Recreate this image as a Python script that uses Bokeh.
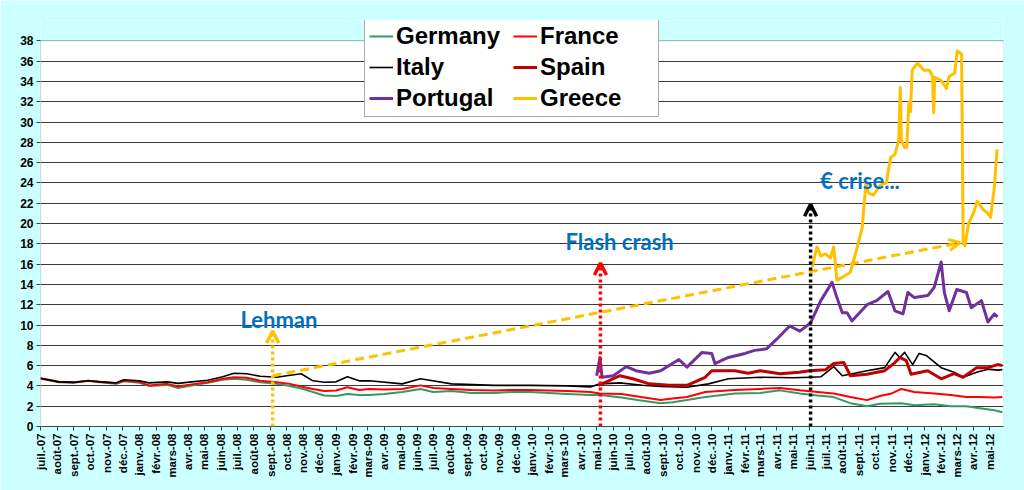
import pandas as pd
from bokeh.plotting import figure
from bokeh.models import (Legend, LegendItem, FixedTicker, Arrow, OpenHead,
                          Label, Range1d, BoxAnnotation)
from bokeh.embed import file_html
from bokeh.resources import INLINE

# ---------------- data ----------------
month_labels = [
    "juil.-07", "août-07", "sept.-07", "oct.-07", "nov.-07", "déc.-07",
    "janv.-08", "févr.-08", "mars-08", "avr.-08", "mai-08", "juin-08",
    "juil.-08", "août-08", "sept.-08", "oct.-08", "nov.-08", "déc.-08",
    "janv.-09", "févr.-09", "mars-09", "avr.-09", "mai-09", "juin-09",
    "juil.-09", "août-09", "sept.-09", "oct.-09", "nov.-09", "déc.-09",
    "janv.-10", "févr.-10", "mars-10", "avr.-10", "mai-10", "juin-10",
    "juil.-10", "août-10", "sept.-10", "oct.-10", "nov.-10", "déc.-10",
    "janv.-11", "févr.-11", "mars-11", "avr.-11", "mai-11", "juin-11",
    "juil.-11", "août-11", "sept.-11", "oct.-11", "nov.-11", "déc.-11",
    "janv.-12", "févr.-12", "mars-12", "avr.-12", "mai-12",
]
y_ticks = list(range(0, 39, 2))
y_max = 38

germany_dates = [
    "2007-07-01", "2007-07-16", "2007-08-04", "2007-09-01", "2007-09-28", "2007-10-19",
    "2007-11-19", "2007-12-03", "2008-01-01", "2008-01-19", "2008-02-22", "2008-03-13",
    "2008-04-07", "2008-05-07", "2008-06-04", "2008-06-25", "2008-07-19", "2008-08-13",
    "2008-09-13", "2008-10-07", "2008-11-01", "2008-11-19", "2008-12-10", "2009-01-01",
    "2009-01-22", "2009-02-13", "2009-03-04", "2009-04-01", "2009-05-04", "2009-06-07",
    "2009-07-01", "2009-08-04", "2009-09-10", "2009-10-22", "2009-11-25", "2009-12-28",
    "2010-02-01", "2010-03-07", "2010-04-19", "2010-05-07", "2010-06-16", "2010-07-16",
    "2010-08-28", "2010-09-19", "2010-10-16", "2010-11-19", "2011-01-13", "2011-03-01",
    "2011-04-07", "2011-05-14", "2011-06-16", "2011-07-16", "2011-08-16", "2011-09-16",
    "2011-10-10", "2011-11-19", "2011-12-13", "2012-01-19", "2012-02-19", "2012-03-19",
    "2012-04-13", "2012-05-10", "2012-05-25",
]
germany_values = [
    4.70, 4.55, 4.36, 4.30, 4.50, 4.35, 4.20, 4.45, 4.30, 4.00, 4.10, 3.80,
    4.05, 4.30, 4.60, 4.70, 4.60, 4.35, 4.20, 4.00, 3.70, 3.40, 3.06, 3.00,
    3.20, 3.10, 3.10, 3.20, 3.40, 3.70, 3.40, 3.50, 3.30, 3.30, 3.40, 3.40,
    3.30, 3.20, 3.10, 3.10, 2.85, 2.60, 2.30, 2.40, 2.60, 2.90, 3.26, 3.30,
    3.56, 3.26, 3.05, 2.90, 2.30, 2.00, 2.25, 2.30, 2.10, 2.20, 2.00, 2.00,
    1.80, 1.60, 1.40,
]

france_dates = [
    "2007-07-01", "2007-07-16", "2007-08-04", "2007-09-01", "2007-09-28", "2007-10-19",
    "2007-11-19", "2007-12-03", "2008-01-01", "2008-01-19", "2008-02-22", "2008-03-13",
    "2008-04-07", "2008-05-07", "2008-06-04", "2008-06-25", "2008-07-19", "2008-08-13",
    "2008-09-13", "2008-10-07", "2008-11-01", "2008-11-19", "2008-12-10", "2009-01-01",
    "2009-01-22", "2009-02-13", "2009-03-04", "2009-04-01", "2009-05-04", "2009-06-07",
    "2009-07-01", "2009-08-04", "2009-09-10", "2009-10-22", "2009-11-25", "2009-12-28",
    "2010-02-01", "2010-03-07", "2010-04-19", "2010-05-07", "2010-06-16", "2010-07-16",
    "2010-08-28", "2010-09-19", "2010-10-16", "2010-11-19", "2011-01-13", "2011-03-01",
    "2011-04-07", "2011-05-14", "2011-06-16", "2011-07-16", "2011-08-16", "2011-09-16",
    "2011-10-10", "2011-11-01", "2011-11-19", "2011-12-13", "2012-01-19", "2012-02-19",
    "2012-03-19", "2012-04-13", "2012-05-10", "2012-05-25",
]
france_values = [
    4.75, 4.60, 4.40, 4.35, 4.50, 4.40, 4.25, 4.50, 4.40, 4.05, 4.20, 3.95,
    4.15, 4.35, 4.70, 4.85, 4.80, 4.50, 4.36, 4.20, 3.90, 3.70, 3.50, 3.55,
    3.87, 3.60, 3.70, 3.65, 3.70, 4.05, 3.80, 3.70, 3.60, 3.55, 3.60, 3.60,
    3.55, 3.50, 3.40, 3.26, 3.20, 2.95, 2.60, 2.75, 2.90, 3.40, 3.60, 3.70,
    3.80, 3.56, 3.40, 3.26, 2.90, 2.60, 3.00, 3.26, 3.70, 3.40, 3.26, 3.10,
    2.90, 2.90, 2.85, 2.90,
]

italy_dates = [
    "2007-07-01", "2007-08-04", "2007-09-01", "2007-09-28", "2007-10-19", "2007-11-19",
    "2007-12-03", "2008-01-01", "2008-01-19", "2008-02-22", "2008-03-13", "2008-04-07",
    "2008-05-07", "2008-06-04", "2008-06-25", "2008-07-19", "2008-08-13", "2008-09-13",
    "2008-10-01", "2008-10-28", "2008-11-19", "2008-12-10", "2009-01-01", "2009-01-22",
    "2009-02-13", "2009-03-04", "2009-05-04", "2009-06-07", "2009-08-04", "2009-10-22",
    "2009-12-28", "2010-03-07", "2010-04-19", "2010-05-07", "2010-06-13", "2010-07-25",
    "2010-08-28", "2010-10-16", "2010-11-25", "2011-01-01", "2011-03-01", "2011-05-01",
    "2011-06-03", "2011-06-22", "2011-07-16", "2011-08-01", "2011-09-16", "2011-10-19",
    "2011-11-07", "2011-11-16", "2011-11-25", "2011-12-10", "2011-12-22", "2012-01-04",
    "2012-02-01", "2012-02-25", "2012-03-13", "2012-04-07", "2012-04-28", "2012-05-16",
    "2012-05-25",
]
italy_values = [
    4.75, 4.40, 4.35, 4.50, 4.40, 4.30, 4.60, 4.50, 4.30, 4.40, 4.25, 4.40,
    4.55, 4.90, 5.25, 5.20, 4.95, 4.85, 5.00, 5.20, 4.50, 4.36, 4.40, 4.90,
    4.50, 4.50, 4.20, 4.70, 4.20, 4.05, 4.05, 4.00, 3.90, 4.20, 4.30, 4.06,
    3.95, 3.86, 4.20, 4.70, 4.85, 4.80, 4.85, 4.90, 5.90, 5.00, 5.50, 5.80,
    7.30, 6.80, 7.30, 6.10, 7.20, 7.00, 5.80, 5.35, 4.85, 5.35, 5.65, 5.55,
    5.60,
]

spain_dates = [
    "2010-05-04", "2010-05-19", "2010-06-13", "2010-07-07", "2010-08-07", "2010-09-13",
    "2010-10-16", "2010-11-19", "2010-12-01", "2011-01-13", "2011-02-07", "2011-03-01",
    "2011-04-07", "2011-05-13", "2011-06-01", "2011-07-01", "2011-07-16", "2011-08-04",
    "2011-08-16", "2011-09-16", "2011-10-19", "2011-11-07", "2011-11-16", "2011-11-28",
    "2011-12-07", "2012-01-07", "2012-02-01", "2012-02-25", "2012-03-13", "2012-04-07",
    "2012-04-28", "2012-05-16", "2012-05-25",
]
spain_values = [
    4.06, 4.40, 5.00, 4.70, 4.20, 4.06, 4.06, 4.85, 5.50, 5.50, 5.25, 5.50,
    5.20, 5.35, 5.50, 5.60, 6.20, 6.30, 5.00, 5.15, 5.50, 6.30, 6.80, 6.50,
    5.15, 5.50, 4.70, 5.20, 4.85, 5.80, 5.80, 6.10, 6.00,
]

portugal_dates = [
    "2010-05-01", "2010-05-07", "2010-05-11", "2010-06-01", "2010-06-25", "2010-07-13",
    "2010-08-07", "2010-08-28", "2010-10-01", "2010-10-16", "2010-11-13", "2010-12-01",
    "2010-12-07", "2011-01-01", "2011-02-01", "2011-02-19", "2011-03-13", "2011-04-01",
    "2011-04-25", "2011-05-14", "2011-06-03", "2011-06-22", "2011-07-13", "2011-07-22",
    "2011-08-01", "2011-08-10", "2011-08-19", "2011-09-16", "2011-10-04", "2011-10-25",
    "2011-11-07", "2011-11-22", "2011-12-01", "2011-12-13", "2012-01-07", "2012-01-19",
    "2012-02-01", "2012-02-07", "2012-02-16", "2012-03-01", "2012-03-19", "2012-03-28",
    "2012-04-16", "2012-04-28", "2012-05-10", "2012-05-16",
]
portugal_values = [
    5.00, 6.80, 4.85, 5.00, 5.90, 5.50, 5.25, 5.50, 6.60, 5.85, 7.30, 7.20,
    6.20, 6.80, 7.20, 7.50, 7.65, 8.60, 9.90, 9.40, 10.20, 12.40, 14.20, 12.70,
    11.20, 11.20, 10.40, 12.00, 12.40, 13.30, 11.40, 11.10, 13.20, 12.70, 12.90, 13.70,
    16.20, 13.20, 11.40, 13.50, 13.20, 11.70, 12.40, 10.30, 11.10, 10.80,
]

greece_dates = [
    "2011-06-06", "2011-06-15", "2011-06-22", "2011-07-01", "2011-07-10", "2011-07-16",
    "2011-07-22", "2011-08-04", "2011-08-16", "2011-08-29", "2011-09-07", "2011-09-14",
    "2011-09-19", "2011-09-28", "2011-10-11", "2011-10-22", "2011-10-30", "2011-11-07",
    "2011-11-14", "2011-11-17", "2011-11-19", "2011-11-25", "2011-11-29", "2011-12-03",
    "2011-12-06", "2011-12-09", "2011-12-19", "2011-12-31", "2012-01-10", "2012-01-16",
    "2012-01-18", "2012-01-20", "2012-02-01", "2012-02-11", "2012-02-16", "2012-02-26",
    "2012-03-02", "2012-03-10", "2012-03-13", "2012-03-16", "2012-03-23", "2012-04-01",
    "2012-04-08", "2012-04-19", "2012-04-28", "2012-05-03", "2012-05-10", "2012-05-15",
]
greece_values = [
    15.7, 17.7, 16.8, 17.0, 16.6, 17.7, 14.4, 14.8, 15.2, 17.7, 19.6, 24.0,
    23.0, 22.8, 23.8, 24.0, 26.5, 26.8, 28.2, 33.4, 28.2, 27.5, 27.5, 32.0,
    31.0, 35.1, 35.8, 35.1, 35.1, 34.5, 30.9, 34.4, 34.1, 33.3, 34.5, 34.8,
    37.0, 36.7, 18.0, 17.8, 20.0, 21.0, 22.2, 21.4, 21.0, 20.6, 23.6, 27.3,
]

# annotations (date, value)
lehman_x, lehman_top = "2008-09-05", 9.4
flash_x, flash_top = "2010-05-08", 16.1
crise_x, crise_top = "2011-06-03", 21.9
trend_start = ("2008-09-05", 5.0)
trend_end = ("2012-03-07", 18.1)
lehman_text = ("2008-07-07", 10.5)
flash_text = ("2010-03-04", 18.2)
crise_text = ("2011-06-21", 24.2)

x_start, x_end = "2007-07-01", "2012-05-27"


def ms(s):
    return pd.Timestamp(s).timestamp() * 1000.0


# ---------------- figure ----------------
BG = "#CCFFFF"
# the frame reaches a little above 38 so that the legend (which overlaps
# the top border in the reference) is not clipped; that strip is painted
# in the background colour.
p = figure(width=1024, height=490, x_axis_type="datetime",
           output_backend="svg", toolbar_location=None,
           x_range=Range1d(ms(x_start), ms(x_end)),
           y_range=Range1d(0, 40.0),
           min_border_left=40, min_border_right=21,
           min_border_top=20, min_border_bottom=64)
p.border_fill_color = BG
p.background_fill_color = "white"
p.outline_line_color = None

tick_pos = [ts.timestamp() * 1000.0 for ts in
            pd.date_range(x_start, periods=len(month_labels), freq="MS")]
p.xaxis.ticker = FixedTicker(ticks=tick_pos)
p.xaxis.major_label_overrides = {t: lab for t, lab in zip(tick_pos, month_labels)}
p.xaxis.major_label_orientation = 3.14159265 / 2
p.yaxis.ticker = FixedTicker(ticks=y_ticks)

for ax in (p.xaxis[0], p.yaxis[0]):
    ax.major_label_text_font = "Liberation Sans"
    ax.major_label_text_font_style = "bold"
    ax.major_label_text_color = "black"
    ax.minor_tick_line_color = None
    ax.major_tick_in = 0
    ax.major_tick_out = 4
    ax.major_label_standoff = 3
p.xaxis.major_label_text_font_size = "11.5px"
p.yaxis.major_label_text_font_size = "12px"
p.xaxis.axis_line_color = "#404040"
p.xaxis.major_tick_line_color = "#404040"
p.yaxis.axis_line_color = None
p.yaxis.major_tick_line_color = "#404040"

p.xgrid.visible = False
p.ygrid.grid_line_color = "#3a3a3a"
p.ygrid.grid_line_width = 1

# strip above 38 painted as background, green plot border, grey y axis line
p.add_layout(BoxAnnotation(bottom=y_max, fill_color=BG, fill_alpha=1,
                           line_color=None, level="underlay"))
p.add_layout(BoxAnnotation(bottom=0, top=y_max, fill_alpha=0,
                           line_color="#22B14C", line_width=1))
p.add_layout(BoxAnnotation(bottom=0, top=y_max, left=ms(x_start),
                           right=ms(x_start), fill_alpha=0,
                           line_color="#808080", line_width=1.5))

# ---------------- series ----------------
series = [
    ("Germany", germany_dates, germany_values, "#339966", 2),
    ("France", france_dates, france_values, "#FF0000", 2),
    ("Italy", italy_dates, italy_values, "#000000", 1.6),
    ("Spain", spain_dates, spain_values, "#C00000", 3),
    ("Portugal", portugal_dates, portugal_values, "#7030A0", 3),
    ("Greece", greece_dates, greece_values, "#FFC000", 3),
]
rend = {}
for name, d, v, col, w in series:
    rend[name] = p.line(pd.to_datetime(d), v, line_color=col, line_width=w,
                        line_join="round")

# ---------------- annotations ----------------
p.add_layout(Arrow(x_start=ms(trend_start[0]), y_start=trend_start[1],
                   x_end=ms(trend_end[0]), y_end=trend_end[1],
                   line_color="#FFC000", line_width=3, line_dash="9 5",
                   end=OpenHead(size=11, line_color="#FFC000", line_width=3)))
for xx, top, col in [(lehman_x, lehman_top, "#FFC000"),
                     (flash_x, flash_top, "#FF0000"),
                     (crise_x, crise_top, "#000000")]:
    p.add_layout(Arrow(x_start=ms(xx), y_start=0, x_end=ms(xx), y_end=top,
                       line_color=col, line_width=3.5, line_dash="3 3",
                       end=OpenHead(size=12, line_color=col, line_width=3.5)))

for (xx, yy), txt in [(lehman_text, "Lehman"), (flash_text, "Flash crash"),
                      (crise_text, "€ crise...")]:
    p.add_layout(Label(x=ms(xx), y=yy, text=txt, text_font="Lato",
                       text_font_style="bold", text_font_size="22px",
                       text_color="#0070C0", text_baseline="alphabetic"))

# ---------------- legend ----------------
order = ["Germany", "Italy", "Portugal", "France", "Spain", "Greece"]
legend = Legend(items=[LegendItem(label=n, renderers=[rend[n]]) for n in order],
                ncols=2, location=(324, 309),
                label_text_font="Liberation Sans", label_text_font_style="bold",
                label_text_font_size="24px", label_text_color="black",
                glyph_width=24, glyph_height=26, label_height=26,
                label_width=114, label_standoff=3, spacing=3, padding=4,
                margin=0, border_line_color="#555555", border_line_width=1,
                background_fill_color="white", background_fill_alpha=1)
p.add_layout(legend)

html = file_html(p, INLINE, title="Taux")
html = html.replace("<body>", '<body style="background-color:%s;">' % BG, 1)
open("out.html", "w").write(html)
